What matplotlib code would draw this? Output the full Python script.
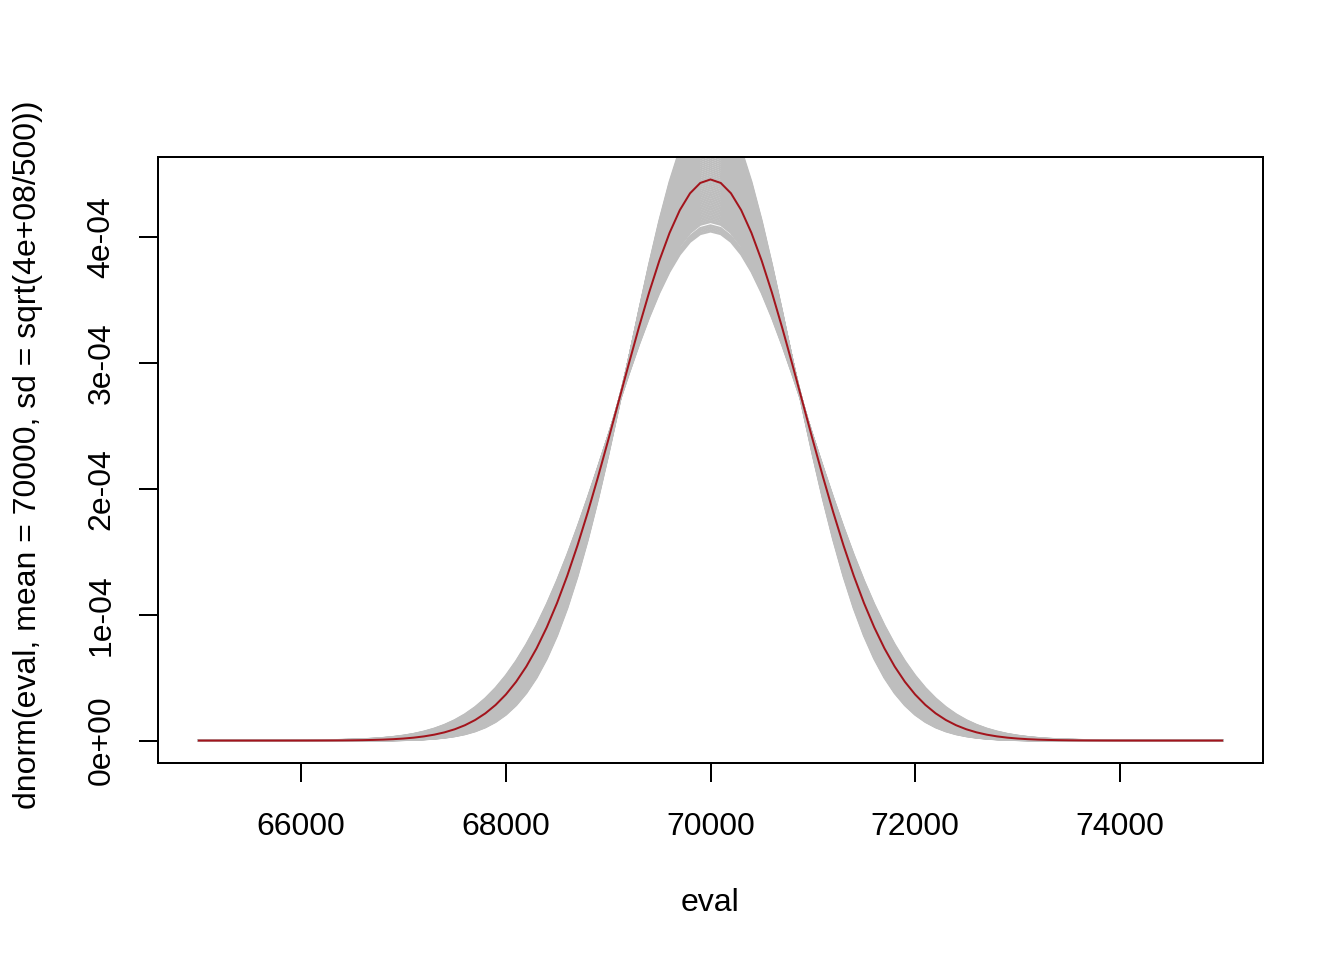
import numpy as np
import matplotlib
matplotlib.use("Agg")
import matplotlib.pyplot as plt

# ---- data ----
eval_grid = np.arange(65000, 75001, 100)          # evaluation points
true_mean = 70000
true_sd = np.sqrt(4e8 / 500)                        # sd of highlighted curve
# standard deviations of the grey simulated curves (read from band envelope)
sim_sds = [790, 793, 796, 799, 802, 805, 808,
           810, 813, 816, 819, 822, 825, 828, 831, 834, 837, 840, 843, 846,
           849, 852, 855, 858, 861, 864, 867, 870, 873, 876, 879, 882, 885,
           888, 891, 894, 897, 900, 903, 906, 909, 912, 915, 918, 921, 924,
           927, 930, 933, 936, 939, 942, 945, 948, 951, 954, 957, 960, 963,
           966, 968, 974, 977, 980, 983, 986]
xticks = [66000, 68000, 70000, 72000, 74000]
yticks = [0, 1e-4, 2e-4, 3e-4, 4e-4]
ytick_labels = ["0e+00", "1e-04", "2e-04", "3e-04", "4e-04"]
xlab = "eval"
ylab = "dnorm(eval, mean = 70000, sd = sqrt(4e+08/500))"


def dnorm(x, mean, sd):
    return np.exp(-0.5 * ((x - mean) / sd) ** 2) / (sd * np.sqrt(2 * np.pi))


plt.rcParams["font.family"] = ["Liberation Sans", "DejaVu Sans"]
plt.rcParams["font.size"] = 12

W, H, DPI = 1344, 960, 192
fig = plt.figure(figsize=(W / DPI, H / DPI), dpi=DPI)
L, R, T, B = 158, 1263, 157, 763
ax = fig.add_axes([L / W, 1 - B / H, (R - L) / W, (B - T) / H])

red_y = dnorm(eval_grid, true_mean, true_sd)

for s in sim_sds:
    ax.plot(eval_grid, dnorm(eval_grid, true_mean, s), color="#BEBEBE",
            lw=0.75, solid_joinstyle="round", zorder=1)
ax.plot(eval_grid, red_y, color="#A3141C", lw=0.75, zorder=2)

xr = eval_grid.max() - eval_grid.min()
yr = red_y.max() - red_y.min()
ax.set_xlim(eval_grid.min() - 0.04 * xr, eval_grid.max() + 0.04 * xr)
ax.set_ylim(red_y.min() - 0.04 * yr, red_y.max() + 0.04 * yr)

ax.set_xticks(xticks)
ax.set_xticklabels([str(v) for v in xticks])
ax.set_yticks(yticks)
ax.set_yticklabels(ytick_labels)
for sp in ax.spines.values():
    sp.set_linewidth(0.75)
ax.tick_params(axis="both", direction="out", length=7.2, width=0.75,
               labelsize=12)
ax.tick_params(axis="x", pad=11.2)
ax.tick_params(axis="y", pad=8.4)
for lbl in ax.get_yticklabels():
    lbl.set_rotation(90)
    lbl.set_va("center")
    lbl.set_ha("right")

fig.text(710 / W, 1 - 910.7 / H, xlab, ha="center", va="baseline", fontsize=12)
fig.text(36 / W, 1 - 455 / H, ylab, ha="center", va="baseline",
         rotation=90, rotation_mode="anchor", fontsize=12)

fig.savefig("out.png", dpi=DPI)
